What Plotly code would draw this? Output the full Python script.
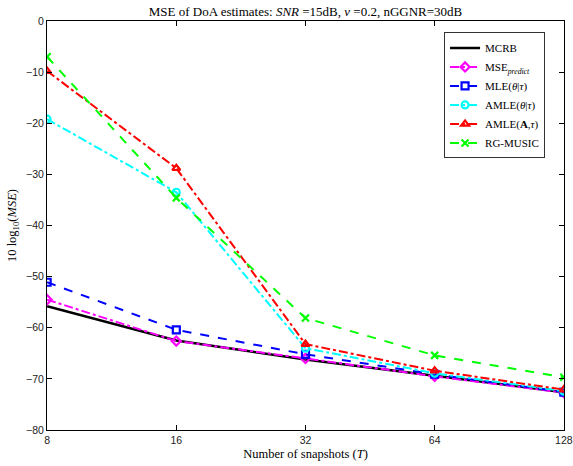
import plotly.graph_objects as go

T = [8, 16, 32, 64, 128]
mcrb = [-55.8, -62.5, -66.2, -69.4, -72.6]
mse_predict = [-54.5, -62.6, -66.0, -69.5, -72.7]
mle = [-51.1, -60.4, -65.2, -69.1, -72.6]
amle_theta = [-19.2, -33.5, -64.0, -68.9, -72.4]
amle_a = [-9.8, -28.8, -63.2, -68.4, -72.1]
rg_music = [-7.0, -34.6, -58.1, -65.4, -69.7]

names = ["MCRB", "MSE<sub><i>predict</i></sub>", "MLE(<i>θ</i>|<i>τ</i>)",
         "AMLE(<i>θ</i>|<i>τ</i>)", "AMLE(<b>A</b>,<i>τ</i>)", "RG-MUSIC"]
series = [mcrb, mse_predict, mle, amle_theta, amle_a, rg_music]
colors = ["black", "#ff00ff", "#0000ff", "#00ffff", "#ff0000", "#00ff00"]
dashes = ["solid", "dashdot", "dash", "dashdot", "dashdot", "dash"]
symbols = [None, "diamond-open", "square-open", "circle-open", "triangle-up-open", "x-thin-open"]

fig = go.Figure()
for n, s, c, d, m in zip(names, series, colors, dashes, symbols):
    if m is None:
        fig.add_trace(go.Scatter(x=T, y=s, name=n, mode="lines",
                                 line=dict(color=c, width=2.5, dash=d)))
    else:
        fig.add_trace(go.Scatter(x=T, y=s, name=n, mode="lines+markers",
                                 line=dict(color=c, width=2, dash=d),
                                 marker=dict(symbol=m, size=7, color=c,
                                             line=dict(color=c, width=2.2))))

axis_common = dict(showline=True, mirror="ticks", linecolor="black", linewidth=1,
                   ticks="inside", ticklen=5, tickcolor="black", showgrid=False,
                   zeroline=False, ticklabeloverflow="allow", automargin=False,
                   tickfont=dict(family="Liberation Sans", size=10.5, color="#222222"))

fig.update_layout(
    width=573, height=466,
    margin=dict(l=47, r=9, t=21, b=36),
    paper_bgcolor="white", plot_bgcolor="white",
    title=dict(text="MSE of DoA estimates: <i>SNR</i> =15dB, <i>ν</i> =0.2, nGGNR=30dB",
               x=0.5, xref="paper", xanchor="center", y=0.985, yanchor="top",
               font=dict(family="Liberation Serif", size=13, color="black")),
    xaxis=dict(type="log", range=[0.9028, 2.1076], tickvals=T, ticktext=[str(t) for t in T],
               title=dict(text="Number of snapshots (<i>T</i>)", standoff=4,
                          font=dict(family="Liberation Serif", size=12.5, color="black")),
               **axis_common),
    yaxis=dict(range=[-80, 0], tickvals=list(range(-80, 1, 10)),
               title=dict(text="10 log<sub>10</sub>(<i>MSE</i>)", standoff=6,
                          font=dict(family="Liberation Serif", size=12.5, color="black")),
               **axis_common),
    legend=dict(x=0.768, y=0.972, xanchor="left", yanchor="top",
                bgcolor="white", bordercolor="#333333", borderwidth=1,
                font=dict(family="Liberation Serif", size=11, color="black"),
                tracegroupgap=0, itemwidth=30),
    showlegend=True,
)

fig.write_html("out.html")
